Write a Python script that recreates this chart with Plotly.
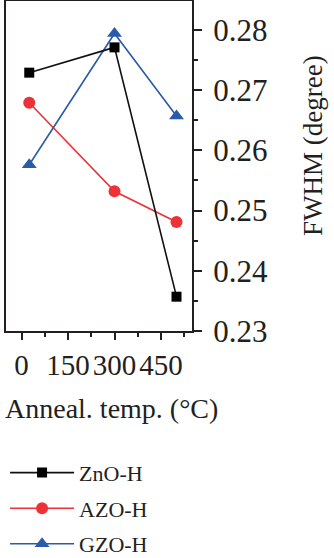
import plotly.graph_objects as go

temps = [25, 300, 500]
zno_h = [0.2729, 0.2771, 0.2357]
azo_h = [0.2679, 0.2532, 0.2481]
gzo_h = [0.2576, 0.2794, 0.2657]
x_ticks = [0, 150, 300, 450]
y_ticks = [0.23, 0.24, 0.25, 0.26, 0.27, 0.28]

TXT = "#231F20"
SERIF = "Liberation Serif"

fig = go.Figure()
fig.add_trace(go.Scatter(x=temps, y=azo_h, name="AZO-H", mode="lines+markers",
                         line=dict(color="#EC3237", width=1.6),
                         marker=dict(symbol="circle", size=12, color="#EC3237"),
                         legendgroup="b", legendrank=2))
fig.add_trace(go.Scatter(x=temps, y=gzo_h, name="GZO-H", mode="lines+markers",
                         line=dict(color="#2A5BA8", width=1.6),
                         marker=dict(symbol="triangle-up", size=13, color="#2A5BA8"),
                         legendgroup="c", legendrank=3))
fig.add_trace(go.Scatter(x=temps, y=zno_h, name="ZnO-H", mode="lines+markers",
                         line=dict(color="#111111", width=1.6),
                         marker=dict(symbol="square", size=10, color="#000000"),
                         legendgroup="a", legendrank=1))

fig.update_layout(
    width=334, height=558,
    margin=dict(l=6, r=142, t=1, b=227, autoexpand=False),
    paper_bgcolor="white", plot_bgcolor="white",
    font=dict(family=SERIF, color=TXT),
    showlegend=True,
    legend=dict(x=-0.005, xanchor="left", y=-0.366, yanchor="top",
                font=dict(size=22, family=SERIF, color=TXT),
                tracegroupgap=4, itemwidth=64, bgcolor="rgba(0,0,0,0)"),
    xaxis=dict(range=[-50, 550], tickvals=x_ticks, ticktext=[str(v) for v in x_ticks],
               showline=True, linecolor=TXT, linewidth=2, mirror=True,
               ticks="outside", ticklen=7, tickwidth=2, tickcolor=TXT,
               minor=dict(dtick=75, tick0=0, ticks="outside", ticklen=4, tickwidth=2, tickcolor=TXT),
               showgrid=False, zeroline=False, tickangle=0, automargin=False,
               tickfont=dict(size=29, family=SERIF, color=TXT),
               ticklabelstandoff=0),
    yaxis=dict(range=[0.23, 0.2848], tickvals=y_ticks, tickformat=".2f", side="right",
               showline=True, linecolor=TXT, linewidth=2, mirror=True,
               ticks="outside", ticklen=8, tickwidth=2, tickcolor=TXT,
               minor=dict(dtick=0.005, tick0=0.23, ticks="outside", ticklen=4, tickwidth=2, tickcolor=TXT),
               showgrid=False, zeroline=False, automargin=False,
               tickfont=dict(size=31, family=SERIF, color=TXT),
               ticklabelstandoff=5),
    annotations=[
        dict(text="Anneal. temp. (°C)", xref="paper", yref="paper",
             x=(111 - 6) / 186, y=-(408 - 331) / 330, xanchor="center", yanchor="middle",
             showarrow=False, font=dict(size=28, family=SERIF, color=TXT)),
        dict(text="FWHM (degree)", xref="paper", yref="paper", textangle=-90,
             x=(313 - 6) / 186, y=(331 - 146) / 330, xanchor="center", yanchor="middle",
             showarrow=False, font=dict(size=27, family=SERIF, color=TXT)),
    ],
)

fig.write_html("out.html")
